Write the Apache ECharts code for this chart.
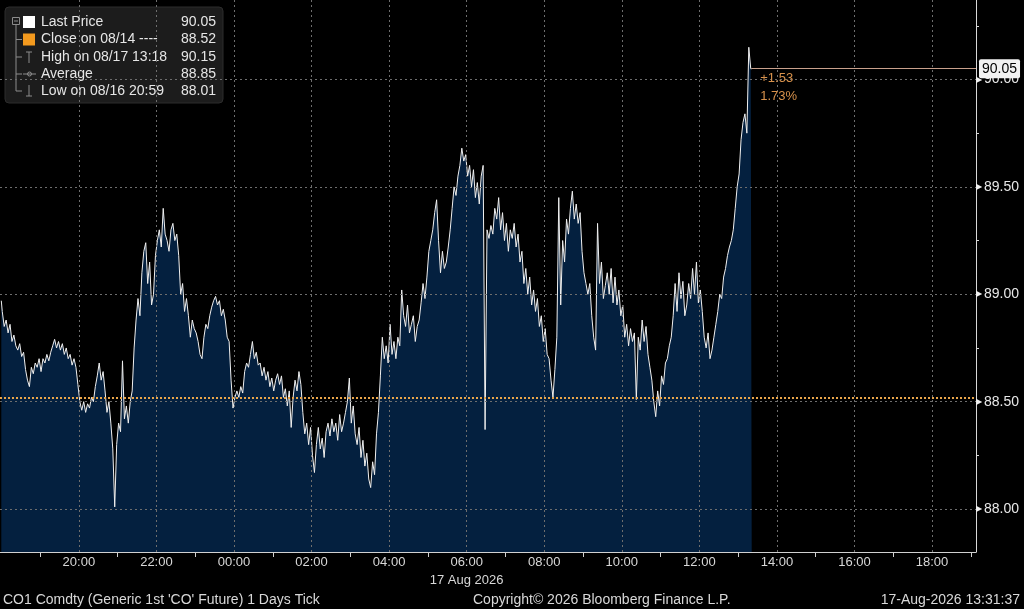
<!DOCTYPE html>
<html>
<head>
<meta charset="utf-8">
<script src="https://cdn.jsdelivr.net/npm/echarts@6.0.0/dist/echarts.min.js"></script>
<style>
  html, body { margin: 0; padding: 0; background: #000; }
  #eChart { width: 1024px; height: 609px; }
</style>
</head>
<body>
<div id="eChart"></div>
<script>
// CO1 tick prices, one value every 3 minutes, grouped by hour
var sampleMinutes = 3;
var hourStarts = [
  '2026-08-16 18:00', '2026-08-16 19:00', '2026-08-16 20:00', '2026-08-16 21:00',
  '2026-08-16 22:00', '2026-08-16 23:00', '2026-08-17 00:00', '2026-08-17 01:00',
  '2026-08-17 02:00', '2026-08-17 03:00', '2026-08-17 04:00', '2026-08-17 05:00',
  '2026-08-17 06:00', '2026-08-17 07:00', '2026-08-17 08:00', '2026-08-17 09:00',
  '2026-08-17 10:00', '2026-08-17 11:00', '2026-08-17 12:00', '2026-08-17 13:00'
];
var p18 = [88.97,88.92,88.85,88.88,88.82,88.86,88.78,88.81,88.76,88.74,88.77,88.71,88.73,88.65,88.60,88.57,88.66,88.63,88.68,88.66];
var p19 = [88.70,88.64,88.70,88.68,88.72,88.69,88.73,88.76,88.79,88.75,88.78,88.74,88.77,88.72,88.75,88.70,88.72,88.67,88.70,88.66];
var p20 = [88.58,88.50,88.46,88.50,88.45,88.49,88.47,88.52,88.50,88.57,88.62,88.68,88.60,88.64,88.55,88.45,88.50,88.40,88.28,88.01];
var p21 = [88.30,88.40,88.36,88.69,88.42,88.48,88.40,88.50,88.55,88.75,88.88,88.98,88.90,89.10,89.20,89.24,89.05,89.15,88.95,89.00];
var p22 = [89.18,89.25,89.30,89.22,89.40,89.28,89.25,89.20,89.30,89.33,89.25,89.28,89.18,89.00,89.05,88.92,88.98,88.90,88.80,88.88];
var p23 = [88.84,88.82,88.78,88.72,88.70,88.80,88.86,88.84,88.90,88.94,88.97,88.99,88.95,88.97,88.90,88.93,88.88,88.80,88.78,88.60];
var p00 = [88.47,88.52,88.55,88.52,88.57,88.54,88.64,88.68,88.66,88.72,88.78,88.70,88.73,88.67,88.68,88.62,88.66,88.60,88.64,88.57];
var p01 = [88.61,88.55,88.60,88.63,88.58,88.62,88.52,88.56,88.48,88.55,88.38,88.52,88.60,88.55,88.64,88.58,88.45,88.35,88.40,88.30];
var p02 = [88.38,88.25,88.17,88.30,88.38,88.28,88.33,88.24,88.36,88.40,88.34,88.42,88.36,88.40,88.32,88.44,88.36,88.40,88.45,88.50];
var p03 = [88.61,88.40,88.48,88.35,88.30,88.38,88.24,88.32,88.20,88.26,88.14,88.10,88.22,88.16,88.35,88.45,88.62,88.80,88.70,88.76];
var p04 = [88.68,88.86,88.72,88.78,88.70,88.80,88.76,89.02,88.90,88.85,88.95,88.82,88.86,88.90,88.78,88.85,88.88,88.96,89.05,88.98];
var p05 = [89.08,89.20,89.25,89.30,89.38,89.44,89.25,89.10,89.20,89.12,89.15,89.22,89.30,89.40,89.50,89.46,89.55,89.60,89.68,89.62];
var p06 = [89.65,89.55,89.60,89.50,89.58,89.45,89.52,89.42,89.55,89.60,88.37,89.30,89.26,89.32,89.28,89.40,89.35,89.45,89.30,89.38];
var p07 = [89.25,89.33,89.20,89.30,89.26,89.33,89.22,89.28,89.15,89.20,89.05,89.12,89.00,89.08,88.95,89.02,88.92,88.98,88.85,88.90];
var p08 = [88.78,88.84,88.72,88.70,88.60,88.52,88.65,88.80,89.45,88.95,89.25,89.15,89.35,89.28,89.40,89.48,89.35,89.42,89.33,89.38];
var p09 = [89.20,89.10,89.05,89.00,89.05,88.90,88.80,88.74,89.33,89.05,89.15,88.98,89.04,89.10,89.00,89.12,88.96,89.08,88.95,89.02];
var p10 = [88.90,88.95,88.80,88.86,88.76,88.84,88.78,88.82,88.51,88.80,88.74,88.88,88.78,88.85,88.72,88.66,88.60,88.50,88.43,88.55];
var p11 = [88.48,88.62,88.58,88.68,88.70,88.76,88.80,88.90,89.05,88.92,89.10,88.98,89.06,88.90,88.95,89.05,88.98,89.12,89.00,89.15];
var p12 = [88.96,89.02,88.92,88.80,88.75,88.82,88.70,88.74,88.80,88.86,88.92,89.00,88.98,89.08,89.12,89.18,89.22,89.25,89.30,89.40];
var p13 = [89.50,89.56,89.72,89.80,89.84,89.75,90.15,90.05];
var hourPrices = [p18, p19, p20, p21, p22, p23, p00, p01, p02, p03, p04, p05, p06, p07, p08, p09, p10, p11, p12, p13];

var priorClose = 88.52;
var legendRows = [
  ['Last Price', '90.05'],
  ['Close on 08/14 ----', '88.52'],
  ['High on 08/17 13:18', '90.15'],
  ['Average', '88.85'],
  ['Low on 08/16 20:59', '88.01']
];

var axisStart = '2026-08-16 17:58';
var axisEnd = '2026-08-17 19:08';
var priceMin = 87.8;
var priceMax = 90.37;
var timeLabels = [
  '2026-08-16 20:00', '2026-08-16 22:00', '2026-08-17 00:00', '2026-08-17 02:00',
  '2026-08-17 04:00', '2026-08-17 06:00', '2026-08-17 08:00', '2026-08-17 10:00',
  '2026-08-17 12:00', '2026-08-17 14:00', '2026-08-17 16:00', '2026-08-17 18:00'
];
var hourTicks = [
  '2026-08-16 19:00', '2026-08-16 21:00', '2026-08-16 23:00', '2026-08-17 01:00',
  '2026-08-17 03:00', '2026-08-17 05:00', '2026-08-17 07:00', '2026-08-17 09:00',
  '2026-08-17 11:00', '2026-08-17 13:00', '2026-08-17 15:00', '2026-08-17 17:00',
  '2026-08-17 19:00'
];
var dateLabel = { time: '2026-08-17 06:00', text: '17 Aug 2026' };
var priceLabels = [88, 88.5, 89, 89.5, 90];
var priceTicks = [88, 88.25, 88.5, 88.75, 89, 89.25, 89.5, 89.75, 90, 90.25];

var footerLeft = "CO1 Comdty (Generic 1st 'CO' Future) 1 Days Tick";
var footerMid = 'Copyright\u00a9 2026 Bloomberg Finance L.P.';
var footerRight = '17-Aug-2026 13:31:37';

var FONT = "'Liberation Sans', Arial, sans-serif";

function toMs(s) {
  return new Date(s.replace(' ', 'T') + ':00').getTime();
}
function pad(n) {
  return (n < 10 ? '0' : '') + n;
}

drawChart();

function buildSeries() {
  var data = [];
  hourPrices.forEach(function (arr, h) {
    var t0 = toMs(hourStarts[h]);
    arr.forEach(function (v, j) {
      data.push([t0 + j * sampleMinutes * 60000, v]);
    });
  });
  return data;
}

function legendGraphic() {
  var els = [];
  var rowY = [22, 39.5, 57, 74, 91];
  var gray = '#8c8c8c';
  els.push({ type: 'rect', shape: { x: 5, y: 7, width: 218, height: 96, r: 4 },
             style: { fill: 'rgba(30,30,30,0.92)', stroke: '#2c2c2c' } });
  // tree
  els.push({ type: 'rect', shape: { x: 12.5, y: 17.5, width: 7, height: 7 }, style: { fill: 'none', stroke: gray } });
  els.push({ type: 'line', shape: { x1: 14, y1: 21, x2: 18, y2: 21 }, style: { stroke: gray } });
  els.push({ type: 'line', shape: { x1: 16, y1: 25, x2: 16, y2: 91 }, style: { stroke: gray } });
  [39.5, 57, 74, 91].forEach(function (y) {
    els.push({ type: 'line', shape: { x1: 16, y1: y, x2: 22, y2: y }, style: { stroke: gray } });
  });
  els.push({ type: 'rect', shape: { x: 23, y: 16, width: 12, height: 12 }, style: { fill: '#ffffff' } });
  els.push({ type: 'rect', shape: { x: 23, y: 33.5, width: 12, height: 12 }, style: { fill: '#f39a1e' } });
  // high marker
  els.push({ type: 'line', shape: { x1: 26, y1: 52, x2: 32, y2: 52 }, style: { stroke: gray } });
  els.push({ type: 'line', shape: { x1: 29, y1: 52, x2: 29, y2: 63 }, style: { stroke: gray } });
  // average marker
  els.push({ type: 'line', shape: { x1: 23, y1: 74, x2: 36, y2: 74 }, style: { stroke: gray } });
  els.push({ type: 'circle', shape: { cx: 29.5, cy: 74, r: 2 }, style: { fill: 'none', stroke: gray } });
  // low marker
  els.push({ type: 'line', shape: { x1: 29, y1: 85, x2: 29, y2: 96 }, style: { stroke: gray } });
  els.push({ type: 'line', shape: { x1: 26, y1: 96, x2: 32, y2: 96 }, style: { stroke: gray } });
  legendRows.forEach(function (row, i) {
    els.push({ type: 'text', x: 41, y: rowY[i],
               style: { text: row[0], fill: '#e6e6e6', font: '14px ' + FONT, textVerticalAlign: 'middle' } });
    els.push({ type: 'text', x: 216, y: rowY[i],
               style: { text: row[1], fill: '#e6e6e6', font: '14px ' + FONT, textAlign: 'right', textVerticalAlign: 'middle' } });
  });
  return els;
}

function drawChart() {
  var mainChart = echarts.init(document.getElementById('eChart'));
  var priceData = buildSeries();
  var last = priceData[priceData.length - 1];
  var change = last[1] - priorClose;
  var changePct = change / priorClose * 100;

  var gridStyle = { color: '#6e6e6e', width: 1, type: [2, 3] };
  var markLines = [];
  priceLabels.forEach(function (v) {
    markLines.push({ yAxis: v, lineStyle: gridStyle, label: { show: false } });
  });
  timeLabels.forEach(function (t) {
    markLines.push({ xAxis: toMs(t), lineStyle: gridStyle, label: { show: false } });
  });
  markLines.push({ yAxis: priorClose, label: { show: false },
                   lineStyle: { color: '#e9a54a', width: 2, type: [2, 2] } });
  markLines.push([
    { coord: [last[0], last[1]], lineStyle: { color: '#c9a18c', width: 1, type: 'solid' },
      label: { show: true, position: 'end', distance: 3, formatter: last[1].toFixed(2),
               color: '#000', backgroundColor: '#f2f2f2', padding: [3, 3, 2, 3], borderRadius: 2,
               fontFamily: FONT, fontSize: 14 } },
    { coord: [toMs(axisEnd), last[1]] }
  ]);

  var option = {
    backgroundColor: '#000',
    animation: false,
    grid: { left: 0, right: 48, top: 0, bottom: 57 },
    xAxis: {
      type: 'value',
      min: toMs(axisStart),
      max: toMs(axisEnd),
      axisLine: { show: true, lineStyle: { color: '#d0d0d0', width: 1 } },
      axisTick: { show: true, customValues: hourTicks.map(toMs), length: 5, lineStyle: { color: '#d0d0d0' } },
      axisLabel: {
        customValues: timeLabels.map(toMs),
        formatter: function (v) {
          var d = new Date(v);
          return pad(d.getHours()) + ':' + pad(d.getMinutes());
        },
        color: '#d8d8d8', fontFamily: FONT, fontSize: 13, margin: 4
      },
      splitLine: { show: false }
    },
    yAxis: {
      type: 'value',
      position: 'right',
      min: priceMin,
      max: priceMax,
      axisLine: { show: true, lineStyle: { color: '#d8d8d8', width: 1 } },
      axisTick: { show: true, customValues: priceTicks, length: 3, lineStyle: { color: '#d8d8d8' } },
      axisLabel: {
        customValues: priceLabels,
        formatter: function (v) { return '{t|\u25B6}{v|' + v.toFixed(2) + '}'; },
        margin: 0,
        rich: {
          t: { color: '#f0f0f0', fontSize: 8, padding: [0, 2, 0, 0] },
          v: { color: '#e8e8e8', fontFamily: FONT, fontSize: 14 }
        }
      },
      splitLine: { show: false }
    },
    series: [{
      name: 'Last Price',
      type: 'line',
      data: priceData,
      step: 'middle',
      showSymbol: false,
      symbol: 'none',
      lineStyle: { color: '#f0f0f0', width: 1 },
      areaStyle: { color: '#04203f', opacity: 1, origin: 'start' },
      markLine: { silent: true, symbol: ['none', 'none'], animation: false, data: markLines },
      markPoint: {
        silent: true,
        symbol: 'rect',
        symbolSize: 1,
        itemStyle: { color: 'transparent' },
        data: [{
          coord: [last[0], last[1]],
          label: {
            show: true,
            position: [9, 1],
            formatter: '+' + change.toFixed(2) + '\n' + changePct.toFixed(2) + '%',
            color: '#d8924c', fontFamily: FONT, fontSize: 13, lineHeight: 18, align: 'left'
          }
        }]
      }
    }]
  };

  mainChart.setOption(option);

  var dateX = mainChart.convertToPixel({ xAxisIndex: 0 }, toMs(dateLabel.time));
  var graphics = legendGraphic();
  graphics.push({ type: 'text', x: dateX, y: 580,
                  style: { text: dateLabel.text, fill: '#d8d8d8', font: '13px ' + FONT,
                           textAlign: 'center', textVerticalAlign: 'middle' } });
  graphics.push({ type: 'text', x: 3, y: 600,
                  style: { text: footerLeft, fill: '#d8d8d8', font: '14px ' + FONT, textVerticalAlign: 'middle' } });
  graphics.push({ type: 'text', x: 473, y: 600,
                  style: { text: footerMid, fill: '#d8d8d8', font: '14px ' + FONT, textVerticalAlign: 'middle' } });
  graphics.push({ type: 'text', x: 1020, y: 600,
                  style: { text: footerRight, fill: '#d8d8d8', font: '14px ' + FONT,
                           textAlign: 'right', textVerticalAlign: 'middle' } });
  mainChart.setOption({ graphic: graphics });
}
</script>
</body>
</html>
